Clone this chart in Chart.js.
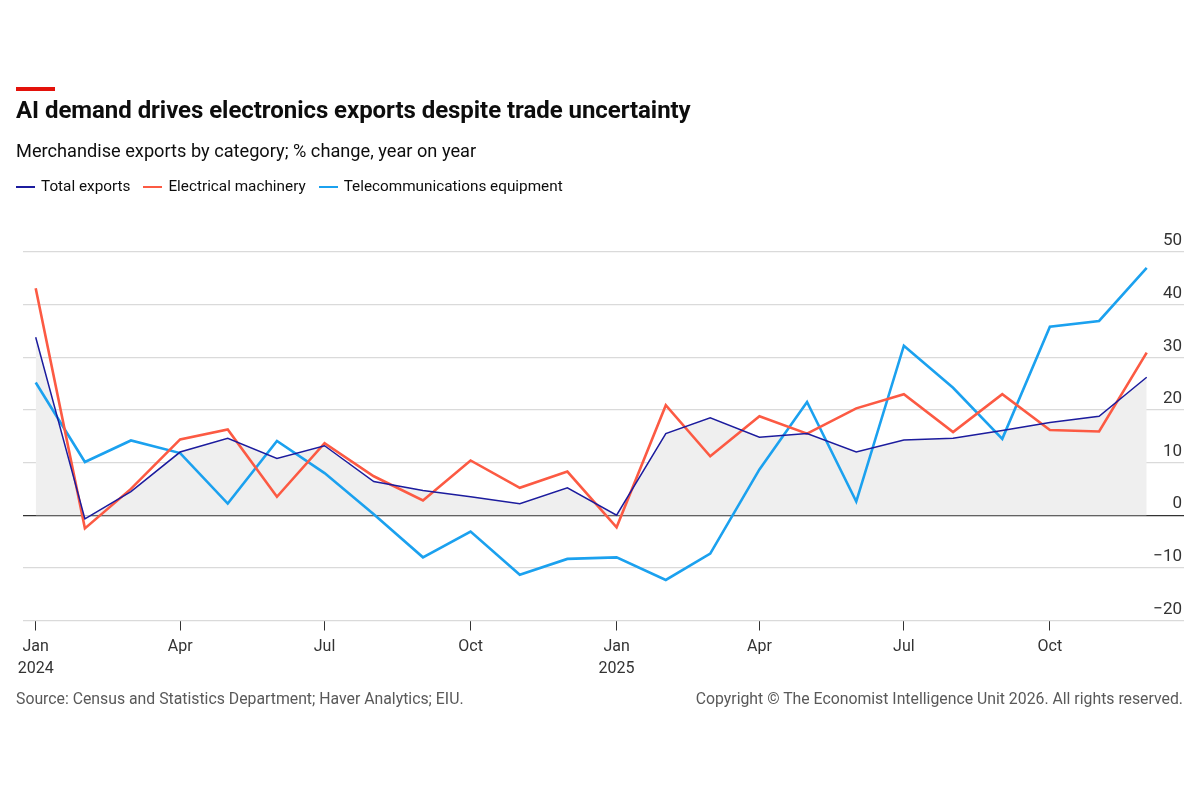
<!DOCTYPE html>
<html>
<head>
<meta charset="utf-8">
<script src="https://cdn.jsdelivr.net/npm/chart.js@4.4.1/dist/chart.umd.min.js"></script>
<style>
  html, body { margin: 0; padding: 0; background: #fff; }
  #wrap { position: relative; width: 1200px; height: 800px; overflow: hidden;
          font-family: Roboto, "Liberation Sans", sans-serif; color: #0d0d0d; }
  canvas { position: absolute; left: 0; top: 0; }
  .abs { position: absolute; white-space: nowrap; line-height: 1; }
  #bar { position: absolute; left: 16px; top: 87px; width: 39px; height: 4px; background: #e3120b; }
  #title { left: 16px; top: 98px; font-size: 24px; font-weight: bold; letter-spacing: -0.05px; }
  #subtitle { left: 16px; top: 142px; font-size: 18.2px; }
  #legend { left: 16px; top: 179px; font-size: 15.3px; display: flex; align-items: center; }
  #legend .item { display: flex; align-items: center; margin-right: 13px; }
  #legend .sw { display: inline-block; width: 19px; height: 2px; margin-right: 6px; }
  .foot { top: 691px; font-size: 15.8px; color: #595959; }
</style>
</head>
<body>
<div id="wrap">
  <canvas id="chart" width="1200" height="800"></canvas>
  <div id="bar"></div>
  <div id="title" class="abs">AI demand drives electronics exports despite trade uncertainty</div>
  <div id="subtitle" class="abs">Merchandise exports by category; % change, year on year</div>
  <div id="legend" class="abs"></div>
  <div class="abs foot" style="left:16px">Source: Census and Statistics Department; Haver Analytics; EIU.</div>
  <div class="abs foot" style="right:17px">Copyright © The Economist Intelligence Unit 2026. All rights reserved.</div>
</div>
<script>
// ---- data ----
const months = ['2024-01-01','2024-02-01','2024-03-01','2024-04-01','2024-05-01','2024-06-01',
                '2024-07-01','2024-08-01','2024-09-01','2024-10-01','2024-11-01','2024-12-01',
                '2025-01-01','2025-02-01','2025-03-01','2025-04-01','2025-05-01','2025-06-01',
                '2025-07-01','2025-08-01','2025-09-01','2025-10-01','2025-11-01','2025-12-01'];
const seriesNames = ['Total exports', 'Electrical machinery', 'Telecommunications equipment'];
const totalExports = [33.8, -0.7, 4.5, 12.0, 14.6, 10.8, 13.2, 6.4, 4.7, 3.5, 2.2, 5.2,
                      0.0, 15.5, 18.5, 14.8, 15.5, 12.0, 14.3, 14.6, 16.1, 17.6, 18.8, 26.2];
const electricalMachinery = [43.1, -2.5, 5.0, 14.4, 16.3, 3.5, 13.7, 7.4, 2.8, 10.4, 5.2, 8.3,
                             -2.3, 20.9, 11.2, 18.8, 15.5, 20.3, 23.0, 15.8, 23.0, 16.2, 15.9, 30.9];
const telecomEquipment = [25.2, 10.1, 14.2, 11.8, 2.2, 14.1, 8.0, 0.2, -8.0, -3.1, -11.3, -8.3,
                          -8.0, -12.3, -7.3, 8.7, 21.5, 2.6, 32.2, 24.2, 14.5, 35.8, 36.9, 47.0];
const tickMonths = ['2024-01-01','2024-04-01','2024-07-01','2024-10-01',
                    '2025-01-01','2025-04-01','2025-07-01','2025-10-01'];
const tickLabels = [['Jan','2024'], 'Apr', 'Jul', 'Oct', ['Jan','2025'], 'Apr', 'Jul', 'Oct'];
const yTicks = [-20, -10, 0, 10, 20, 30, 40, 50];
const colors = ['#1c1c9e', '#fc5a43', '#1ba1ef'];

// ---- build ----
const FONT = 'Roboto, "Liberation Sans", sans-serif';
const DAY = 86400000;
const base = Date.parse(months[0]);
const toDay = m => (Date.parse(m) - base) / DAY;
const xs = months.map(toDay);
const pts = arr => arr.map((v, i) => ({ x: xs[i], y: v }));

// legend (HTML)
const legend = document.getElementById('legend');
seriesNames.forEach((n, i) => {
  const it = document.createElement('span'); it.className = 'item';
  const sw = document.createElement('span'); sw.className = 'sw'; sw.style.background = colors[i];
  it.appendChild(sw); it.appendChild(document.createTextNode(n));
  legend.appendChild(it);
});

new Chart(document.getElementById('chart'), {
  type: 'line',
  data: {
    datasets: [
      { label: seriesNames[0], data: pts(totalExports), borderColor: colors[0], borderWidth: 1.5,
        backgroundColor: '#efefef', fill: { target: 'origin', above: '#efefef', below: '#efefef' },
        pointRadius: 0, tension: 0 },
      { label: seriesNames[1], data: pts(electricalMachinery), borderColor: colors[1], borderWidth: 2.6,
        fill: false, pointRadius: 0, tension: 0 },
      { label: seriesNames[2], data: pts(telecomEquipment), borderColor: colors[2], borderWidth: 2.6,
        fill: false, pointRadius: 0, tension: 0 }
    ]
  },
  options: {
    responsive: false,
    devicePixelRatio: 1,
    animation: false,
    layout: { padding: { left: 23, right: 0, top: 252, bottom: 119.5 } },
    plugins: {
      legend: { display: false },
      tooltip: { enabled: false },
      filler: { drawTime: 'beforeDatasetsDraw' }
    },
    scales: {
      x: {
        type: 'linear', min: -8, max: 723.5,
        afterBuildTicks: s => { s.ticks = tickMonths.map(m => ({ value: toDay(m) })); },
        afterFit: s => { s.height = 60; },
        ticks: { autoSkip: false, maxRotation: 0, padding: 5, color: '#333',
                 font: { family: FONT, size: 16, lineHeight: 1.4 }, callback: (v, i) => tickLabels[i] },
        grid: { drawOnChartArea: false, drawTicks: true, tickLength: 10, color: '#333', lineWidth: 1 },
        border: { display: false }
      },
      y: {
        position: 'right', min: -20, max: 50,
        afterBuildTicks: s => { s.ticks = yTicks.map(v => ({ value: v })); },
        afterFit: s => { s.width = 16; },
        ticks: { mirror: true, padding: -2, labelOffset: -11, color: '#333',
                 font: { family: FONT, size: 17 },
                 callback: v => v < 0 ? '\u2212' + Math.abs(v) : String(v) },
        grid: { drawTicks: false,
                color: c => (c.tick && c.tick.value === 0) ? '#333' : '#dadada',
                lineWidth: 1.3 },
        border: { display: false }
      }
    }
  }
});
</script>
</body>
</html>
